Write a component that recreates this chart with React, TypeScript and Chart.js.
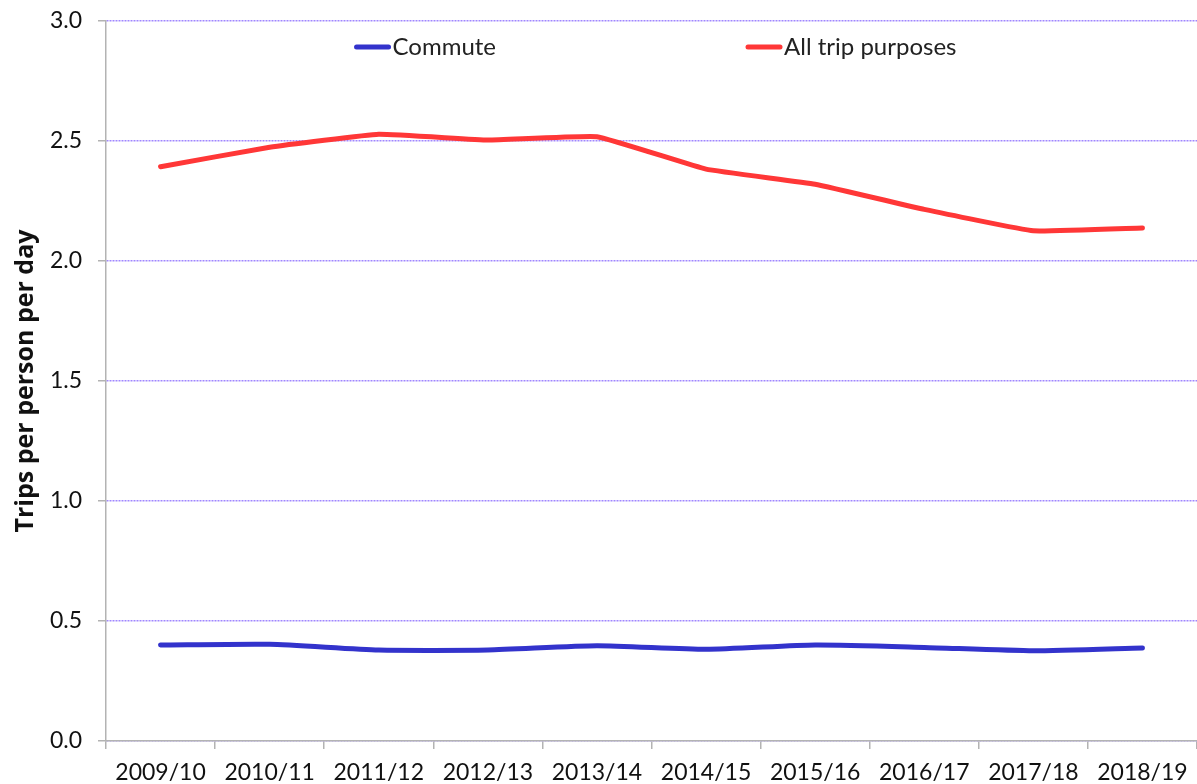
import React, { useEffect, useRef } from "react";
import { Chart, registerables } from "chart.js";

Chart.register(...registerables);

const categories = ["2009/10", "2010/11", "2011/12", "2012/13", "2013/14", "2014/15", "2015/16", "2016/17", "2017/18", "2018/19"];
const commute = [0.4, 0.403, 0.379, 0.379, 0.397, 0.382, 0.4, 0.39, 0.376, 0.388];
const allTrips = [2.393, 2.474, 2.528, 2.504, 2.518, 2.383, 2.32, 2.215, 2.126, 2.138];
const yTicks = [0, 0.5, 1.0, 1.5, 2.0, 2.5, 3.0];

const FONT = "Lato, 'Open Sans', sans-serif";
const BLUE = "rgb(51,51,204)";
const RED = "rgb(255,55,55)";
const GRID = "rgb(160,135,255)";

const legendPlugin = {
  id: "innerLegend",
  afterDraw(chart: any) {
    const { ctx, chartArea } = chart;
    const sets = chart.data.datasets;
    ctx.save();
    ctx.font = `24px ${FONT}`;
    ctx.textBaseline = "middle";
    const lineLen = 36;
    const gap = 2;
    const itemGap = 250;
    const widths = sets.map((d: any) => lineLen + gap + ctx.measureText(d.label).width);
    const total = widths.reduce((a: number, b: number) => a + b, 0) + itemGap * (sets.length - 1);
    let x = (chartArea.left + chartArea.right) / 2 - total / 2 + 4;
    const y = chartArea.top + 26;
    sets.forEach((d: any, i: number) => {
      ctx.strokeStyle = d.borderColor;
      ctx.lineWidth = 5;
      ctx.lineCap = "round";
      ctx.beginPath();
      ctx.moveTo(x + 2, y);
      ctx.lineTo(x + lineLen - 2, y);
      ctx.stroke();
      ctx.fillStyle = "#222";
      ctx.textAlign = "left";
      ctx.fillText(d.label, x + lineLen + gap, y);
      x += widths[i] + itemGap;
    });
    ctx.restore();
  },
};

export default function App() {
  const ref = useRef<HTMLCanvasElement | null>(null);
  useEffect(() => {
    document.body.style.margin = "0";
    if (!ref.current) return;
    const chart = new Chart(ref.current, {
      type: "line",
      data: {
        labels: categories,
        datasets: [
          {
            label: "Commute",
            data: commute,
            borderColor: BLUE,
            backgroundColor: BLUE,
            borderWidth: 5,
            pointRadius: 0,
            tension: 0.2,
            borderCapStyle: "round",
            borderJoinStyle: "round",
          },
          {
            label: "All trip purposes",
            data: allTrips,
            borderColor: RED,
            backgroundColor: RED,
            borderWidth: 5,
            pointRadius: 0,
            tension: 0.1,
            borderCapStyle: "round",
            borderJoinStyle: "round",
          },
        ],
      },
      options: {
        animation: false,
        responsive: false,
        maintainAspectRatio: false,
        layout: { padding: { top: 21, right: 0, left: 0, bottom: 0 } },
        plugins: {
          legend: { display: false },
          tooltip: { enabled: false },
        },
        scales: {
          x: {
            offset: true,
            afterFit: (axis: any) => {
              axis.height = 43;
              axis.paddingLeft = 0;
              axis.paddingRight = 0;
            },
            grid: {
              offset: true,
              drawOnChartArea: false,
              tickColor: "#b3b3b3",
              tickLength: 8,
              lineWidth: 1.5,
            },
            border: { color: "#b3b3b3", width: 1.5 },
            ticks: {
              color: "#111",
              font: { family: FONT, size: 23 },
              padding: 10,
              maxRotation: 0,
              autoSkip: false,
            },
          },
          y: {
            min: 0,
            max: 3,
            afterBuildTicks: (axis: any) => {
              axis.ticks = yTicks.map((v) => ({ value: v }));
            },
            afterFit: (axis: any) => {
              axis.width = 106;
              axis.paddingTop = 0;
              axis.paddingBottom = 0;
            },
            grid: {
              color: GRID,
              lineWidth: 1.5,
              tickColor: "#b3b3b3",
              tickLength: 8,
              tickWidth: 1.5,
            },
            border: { color: "#b3b3b3", width: 1.5, dash: [2, 1] },
            ticks: {
              color: "#111",
              font: { family: FONT, size: 23 },
              padding: 16,
              callback: (v: any) => Number(v).toFixed(1),
            },
            title: {
              display: true,
              text: "Trips per person per day",
              color: "#111",
              font: { family: "'Open Sans', Lato, sans-serif", size: 25, weight: "bold" },
              padding: { top: 11, bottom: 10 },
            },
          },
        },
      },
      plugins: [legendPlugin],
    });
    return () => chart.destroy();
  }, []);
  return (
    <div style={{ width: 1197, height: 784 }}>
      <canvas ref={ref} width={1197} height={784} style={{ display: "block", width: 1197, height: 784 }} />
    </div>
  );
}
